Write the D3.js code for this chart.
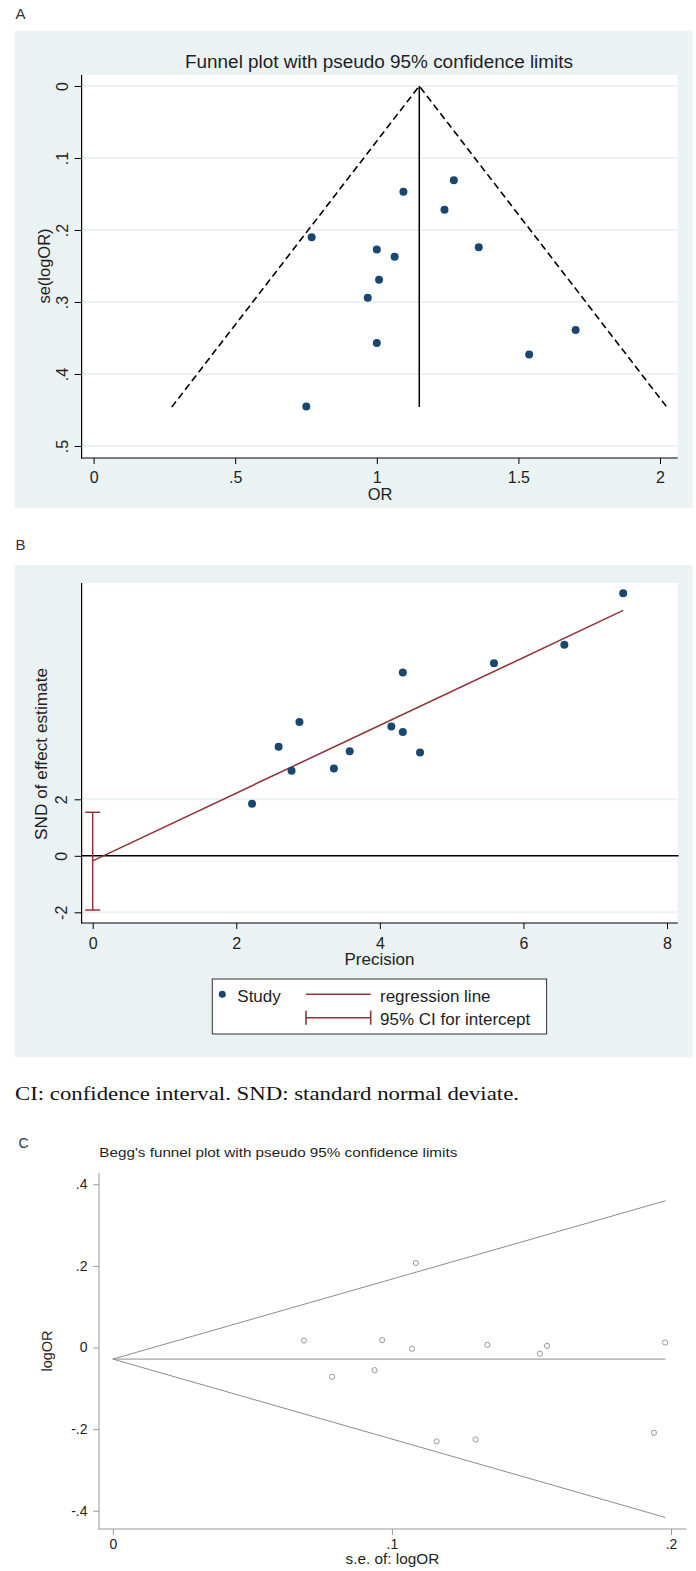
<!DOCTYPE html>
<html>

<head>
    <meta http-equiv="Content-Type" content="text/html; charset=utf-8">
    <title>Funnel plots</title>
    <style type="text/css">
        body {
            margin: 0;
            background: #fff;
        }
        svg {
            display: block;
            font-family: "Liberation Sans", Arial, sans-serif;
        }
        .axis text {
            fill: #1e1e1e;
        }
    </style>
</head>

<body>
    <script src="https://cdn.jsdelivr.net/npm/d3@7"></script>
    <script>
        // Panel A: funnel plot (OR vs se(logOR))
        var orA = [1.094, 1.272, 1.239, 0.770, 1.000, 1.360, 1.063, 1.008, 0.968, 1.000, 1.702, 1.538, 0.751];
        var seA = [0.147, 0.131, 0.172, 0.210, 0.227, 0.224, 0.237, 0.269, 0.294, 0.357, 0.339, 0.373, 0.445];
        var pooledOrA = 1.15;
        var seMaxA = 0.446;
        var ticksAx = [0, 0.5, 1, 1.5, 2];
        var ticksAy = [0, 0.1, 0.2, 0.3, 0.4, 0.5];

        // Panel B: Egger regression
        var precisionB = [7.39, 6.57, 5.59, 4.32, 2.88, 4.16, 4.32, 2.59, 3.58, 4.56, 3.36, 2.77, 2.22];
        var sndB = [9.29, 7.47, 6.82, 6.49, 4.74, 4.58, 4.38, 3.86, 3.70, 3.66, 3.09, 3.01, 1.84];
        var regIntercept = -0.18;
        var regSlope = 1.20;
        var ciIntercept = [-1.92, 1.54];
        var ticksBx = [0, 2, 4, 6, 8];
        var ticksBy = [-2, 0, 2];
        var legendB = ["Study", "regression line", "95% CI for intercept"];

        // Panel C: Begg's funnel plot
        var seC = [0.1086, 0.0685, 0.0965, 0.1072, 0.1342, 0.1556, 0.1530, 0.1979, 0.0786, 0.0938, 0.1160, 0.1300, 0.1939];
        var logOrC = [0.207, 0.017, 0.018, -0.003, 0.0066, 0.004, -0.0154, 0.0123, -0.0718, -0.0555, -0.230, -0.2255, -0.209];
        var pooledLogOrC = -0.0284;
        var seMaxC = 0.198;
        var ticksCx = [0, 0.1, 0.2];
        var ticksCy = [-0.4, -0.2, 0, 0.2, 0.4];

        var caption = "CI: confidence interval. SND: standard normal deviate.";

        var navy = "#1a476f",
            maroon = "#90353b",
            bgBlue = "#eaf2f3";

        // Stata style labels: ".5" instead of "0.5", plain hyphen for minus
        function stataFmt(d) {
            if (d === 0) return "0";
            return String(d).replace(/^0\./, ".").replace(/^-0\./, "-.");
        }

        var svg = d3.select("body").append("svg")
            .attr("width", 696)
            .attr("height", 1571);

        // ---------------- A ----------------
        svg.append("text").attr("x", 15.5).attr("y", 18.5)
            .style("font-size", "15px").style("fill", "#333").text("A");
        svg.append("rect").attr("x", 14.7).attr("y", 31).attr("width", 678).attr("height", 477)
            .style("fill", bgBlue);
        svg.append("rect").attr("x", 81.6).attr("y", 75).attr("width", 596).attr("height", 383)
            .style("fill", "#fff");
        svg.append("text").attr("x", 379).attr("y", 68)
            .attr("text-anchor", "middle")
            .attr("textLength", 388).attr("lengthAdjust", "spacingAndGlyphs")
            .style("font-size", "18px").style("fill", "#1e1e1e")
            .text("Funnel plot with pseudo 95% confidence limits");

        var xA = d3.scaleLinear().domain([0, 2]).range([93.6, 660]);
        var yA = d3.scaleLinear().domain([0, 0.5]).range([86, 446]);

        svg.append("g").selectAll("line").data(ticksAy).enter().append("line")
            .attr("x1", 81.6).attr("x2", 677.7)
            .attr("y1", function (d) { return yA(d); })
            .attr("y2", function (d) { return yA(d); })
            .style("stroke", bgBlue).style("stroke-width", 2);

        var gAx = svg.append("g").attr("class", "axis")
            .attr("transform", "translate(0,458)")
            .call(d3.axisBottom(xA).tickValues(ticksAx).tickFormat(stataFmt).tickSize(6));
        gAx.select(".domain").remove();
        gAx.selectAll("text").attr("y", 13.5).style("font-size", "16px").style("font-family", null);

        var gAy = svg.append("g").attr("class", "axis")
            .attr("transform", "translate(81.6,0)")
            .call(d3.axisLeft(yA).tickValues(ticksAy).tickFormat(stataFmt).tickSize(7));
        gAy.select(".domain").remove();
        gAy.selectAll("text")
            .attr("x", 0).attr("y", -14).attr("dy", 0)
            .attr("transform", "rotate(-90)")
            .attr("text-anchor", "middle")
            .style("font-size", "16px").style("font-family", null);

        svg.append("line").attr("x1", 81.6).attr("x2", 81.6).attr("y1", 75).attr("y2", 458.5)
            .style("stroke", "#000").style("stroke-width", 1.2);
        svg.append("line").attr("x1", 81).attr("x2", 677.7).attr("y1", 458).attr("y2", 458)
            .style("stroke", "#000").style("stroke-width", 1.2);

        svg.append("text").attr("transform", "translate(44.6,266) rotate(-90)")
            .attr("text-anchor", "middle").attr("dy", "0.35em")
            .style("font-size", "16.5px").style("fill", "#1e1e1e").text("se(logOR)");
        svg.append("text").attr("x", 380).attr("y", 500)
            .attr("text-anchor", "middle")
            .style("font-size", "16.5px").style("fill", "#1e1e1e").text("OR");

        // pseudo 95% limits on OR scale
        var funnelA = [
            [pooledOrA - 1.96 * seMaxA, seMaxA],
            [pooledOrA, 0],
            [pooledOrA + 1.96 * seMaxA, seMaxA]
        ];
        svg.append("path")
            .attr("d", d3.line()
                .x(function (d) { return xA(d[0]); })
                .y(function (d) { return yA(d[1]); })(funnelA))
            .style("fill", "none").style("stroke", "#000")
            .style("stroke-width", 1.6).style("stroke-dasharray", "7,4");
        svg.append("line")
            .attr("x1", xA(pooledOrA)).attr("x2", xA(pooledOrA))
            .attr("y1", yA(0)).attr("y2", yA(seMaxA))
            .style("stroke", "#000").style("stroke-width", 1.5);

        svg.append("g").selectAll("ellipse").data(orA).enter().append("ellipse")
            .attr("cx", function (d) { return xA(d); })
            .attr("cy", function (d, i) { return yA(seA[i]); })
            .attr("rx", 4).attr("ry", 4)
            .style("fill", navy);

        // ---------------- B ----------------
        svg.append("text").attr("x", 15.5).attr("y", 550)
            .style("font-size", "15px").style("fill", "#333").text("B");
        svg.append("rect").attr("x", 14.7).attr("y", 565).attr("width", 678).attr("height", 492)
            .style("fill", bgBlue);
        svg.append("rect").attr("x", 81.6).attr("y", 583).attr("width", 596).attr("height", 340)
            .style("fill", "#fff");

        var xB = d3.scaleLinear().domain([0, 8]).range([92.7, 667]);
        var yB = d3.scaleLinear().domain([-2, 2]).range([912.3, 799.3]);

        svg.append("g").selectAll("line").data(ticksBy.filter(function (d) { return d !== 0; }))
            .enter().append("line")
            .attr("x1", 81.6).attr("x2", 677.7)
            .attr("y1", function (d) { return yB(d); })
            .attr("y2", function (d) { return yB(d); })
            .style("stroke", bgBlue).style("stroke-width", 2);

        var gBx = svg.append("g").attr("class", "axis")
            .attr("transform", "translate(0,923)")
            .call(d3.axisBottom(xB).tickValues(ticksBx).tickFormat(stataFmt).tickSize(6));
        gBx.select(".domain").remove();
        gBx.selectAll("text").attr("y", 15).style("font-size", "16px").style("font-family", null);

        var gBy = svg.append("g").attr("class", "axis")
            .attr("transform", "translate(81.6,0)")
            .call(d3.axisLeft(yB).tickValues(ticksBy).tickFormat(stataFmt).tickSize(7));
        gBy.select(".domain").remove();
        gBy.selectAll("text")
            .attr("x", 0).attr("y", -14.5).attr("dy", 0)
            .attr("transform", "rotate(-90)")
            .attr("text-anchor", "middle")
            .style("font-size", "16px").style("font-family", null);

        svg.append("line").attr("x1", 81.6).attr("x2", 81.6).attr("y1", 583).attr("y2", 923.5)
            .style("stroke", "#000").style("stroke-width", 1.2);
        svg.append("line").attr("x1", 81).attr("x2", 677.7).attr("y1", 923).attr("y2", 923)
            .style("stroke", "#000").style("stroke-width", 1.2);

        svg.append("text").attr("transform", "translate(41.5,754) rotate(-90)")
            .attr("text-anchor", "middle").attr("dy", "0.35em")
            .attr("textLength", 172).attr("lengthAdjust", "spacingAndGlyphs")
            .style("font-size", "17px").style("fill", "#1e1e1e").text("SND of effect estimate");
        svg.append("text").attr("x", 379.4).attr("y", 965)
            .attr("text-anchor", "middle")
            .style("font-size", "17px").style("fill", "#1e1e1e").text("Precision");

        // zero line
        svg.append("line").attr("x1", 81.6).attr("x2", 678.6)
            .attr("y1", yB(0)).attr("y2", yB(0))
            .style("stroke", "#000").style("stroke-width", 1.6);

        // CI for intercept
        var ciG = svg.append("g").style("stroke", maroon).style("stroke-width", 1.5);
        ciG.append("line").attr("x1", xB(0)).attr("x2", xB(0))
            .attr("y1", yB(ciIntercept[0])).attr("y2", yB(ciIntercept[1]));
        ciIntercept.forEach(function (v) {
            ciG.append("line").attr("x1", xB(0) - 7.5).attr("x2", xB(0) + 7.5)
                .attr("y1", yB(v)).attr("y2", yB(v));
        });

        var maxPrec = d3.max(precisionB);
        svg.append("line")
            .attr("x1", xB(0)).attr("y1", yB(regIntercept))
            .attr("x2", xB(maxPrec)).attr("y2", yB(regIntercept + regSlope * maxPrec))
            .style("stroke", maroon).style("stroke-width", 1.6);

        svg.append("g").selectAll("ellipse").data(precisionB).enter().append("ellipse")
            .attr("cx", function (d) { return xB(d); })
            .attr("cy", function (d, i) { return yB(sndB[i]); })
            .attr("rx", 4).attr("ry", 4)
            .style("fill", navy);

        // legend
        var lg = svg.append("g");
        lg.append("rect").attr("x", 212.3).attr("y", 979).attr("width", 334.3).attr("height", 55)
            .style("fill", "#fff").style("stroke", "#333").style("stroke-width", 1);
        lg.append("ellipse").attr("cx", 222.3).attr("cy", 994.3).attr("rx", 3.5).attr("ry", 3.5)
            .style("fill", navy);
        lg.append("line").attr("x1", 306).attr("x2", 370.7).attr("y1", 994.3).attr("y2", 994.3)
            .style("stroke", maroon).style("stroke-width", 1.6);
        var lgCi = lg.append("g").style("stroke", maroon).style("stroke-width", 1.6);
        lgCi.append("line").attr("x1", 306).attr("x2", 370.7).attr("y1", 1017.7).attr("y2", 1017.7);
        lgCi.append("line").attr("x1", 306).attr("x2", 306).attr("y1", 1010.7).attr("y2", 1024.7);
        lgCi.append("line").attr("x1", 370.7).attr("x2", 370.7).attr("y1", 1010.7).attr("y2", 1024.7);
        lg.selectAll("text").data(legendB).enter().append("text")
            .attr("x", function (d, i) { return i === 0 ? 237.3 : 380; })
            .attr("y", function (d, i) { return i === 2 ? 1024.5 : 1001.5; })
            .style("font-size", "17px").style("fill", "#1e1e1e")
            .text(function (d) { return d; });

        // caption
        svg.append("text").attr("x", 15).attr("y", 1100)
            .attr("textLength", 504).attr("lengthAdjust", "spacingAndGlyphs")
            .style("font-family", "'Liberation Serif', 'Times New Roman', serif")
            .style("font-size", "18.5px").style("fill", "#111")
            .text(caption);

        // ---------------- C ----------------
        svg.append("text").attr("x", 18.5).attr("y", 1148.3)
            .style("font-size", "14px").style("fill", "#333").text("C");
        svg.append("text").attr("x", 99.3).attr("y", 1157)
            .attr("textLength", 358).attr("lengthAdjust", "spacingAndGlyphs")
            .style("font-size", "13px").style("fill", "#1e1e1e")
            .text("Begg's funnel plot with pseudo 95% confidence limits");

        var xC = d3.scaleLinear().domain([0, 0.2]).range([112.8, 671]);
        var yC = d3.scaleLinear().domain([-0.4, 0.4]).range([1510.7, 1184.3]);

        var gCx = svg.append("g").attr("class", "axis")
            .attr("transform", "translate(0,1529)")
            .call(d3.axisBottom(xC).tickValues(ticksCx).tickFormat(stataFmt).tickSize(6));
        gCx.select(".domain").remove();
        gCx.selectAll("line").style("stroke", "#999");
        gCx.selectAll("text").attr("y", 10.5).style("font-size", "14px").style("font-family", null);

        var gCy = svg.append("g").attr("class", "axis")
            .attr("transform", "translate(99,0)")
            .call(d3.axisLeft(yC).tickValues(ticksCy).tickFormat(stataFmt).tickSize(6));
        gCy.select(".domain").remove();
        gCy.selectAll("line").style("stroke", "#999");
        gCy.selectAll("text").attr("x", -11.5).style("font-size", "14px").style("font-family", null);

        svg.append("line").attr("x1", 99).attr("x2", 99).attr("y1", 1173).attr("y2", 1529.5)
            .style("stroke", "#999").style("stroke-width", 1);
        svg.append("line").attr("x1", 98.5).attr("x2", 686.6).attr("y1", 1529).attr("y2", 1529)
            .style("stroke", "#999").style("stroke-width", 1);

        svg.append("text").attr("transform", "translate(47,1351) rotate(-90)")
            .attr("text-anchor", "middle").attr("dy", "0.35em")
            .style("font-size", "14.5px").style("fill", "#1e1e1e").text("logOR");
        svg.append("text").attr("x", 392.4).attr("y", 1564)
            .attr("text-anchor", "middle")
            .attr("textLength", 93.6).attr("lengthAdjust", "spacingAndGlyphs")
            .style("font-size", "14px").style("fill", "#1e1e1e").text("s.e. of: logOR");

        var funnelC = [
            [seMaxC, pooledLogOrC + 1.96 * seMaxC],
            [0, pooledLogOrC],
            [seMaxC, pooledLogOrC - 1.96 * seMaxC]
        ];
        var lineC = d3.line()
            .x(function (d) { return xC(d[0]); })
            .y(function (d) { return yC(d[1]); });
        svg.append("path").attr("d", lineC(funnelC))
            .style("fill", "none").style("stroke", "#8c8c8c").style("stroke-width", 1);
        svg.append("path").attr("d", lineC([[0, pooledLogOrC], [seMaxC, pooledLogOrC]]))
            .style("fill", "none").style("stroke", "#8c8c8c").style("stroke-width", 1);

        svg.append("g").selectAll("circle").data(seC).enter().append("circle")
            .attr("cx", function (d) { return xC(d); })
            .attr("cy", function (d, i) { return yC(logOrC[i]); })
            .attr("r", 2.6)
            .style("fill", "none").style("stroke", "#8c8c8c").style("stroke-width", 0.9);
    </script>
</body>

</html>
